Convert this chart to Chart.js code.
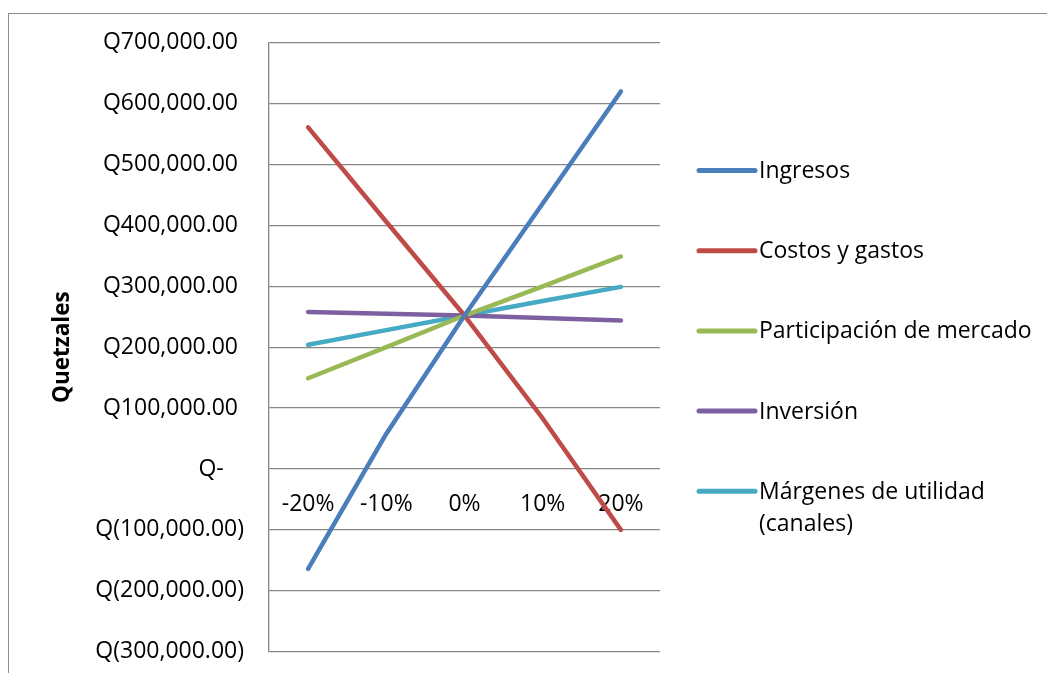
<!DOCTYPE html>
<html>
<head>
<meta charset="utf-8">
<script src="https://cdn.jsdelivr.net/npm/chart.js@4.4.1/dist/chart.umd.min.js"></script>
<style>
  html, body { margin: 0; padding: 0; background: #fff; overflow: hidden; }
  #wrap { position: relative; width: 1047px; height: 673px; overflow: hidden; background: #fff; }
  #frame { position: absolute; left: 8px; top: 12.5px; width: 1100px; height: 700px;
           border: 1.5px solid #8c8c8c; box-sizing: border-box; }
  #c { position: absolute; left: 0; top: 0; }
</style>
</head>
<body>
<div id="wrap">
  <div id="frame"></div>
  <canvas id="c" width="1047" height="673"></canvas>
</div>
<script>
// Sensitivity scenarios (variation applied to each factor)
const categories = ['-20%', '-10%', '0%', '10%', '20%'];

// Resulting value in quetzales for each factor
const ingresos      = [-164000,  58000, 252000, 436000,  620000];
const costosGastos  = [ 561000, 406000, 252000,  83000, -100000];
const participacion = [ 149000, 200000, 252000, 300000,  349000];
const inversion     = [ 258000, 255000, 252000, 248000,  244000];
const margenes      = [ 204000, 228000, 252000, 276000,  299000];

const seriesNames = ['Ingresos', 'Costos y gastos', 'Participación de mercado',
                     'Inversión', 'Márgenes de utilidad (canales)'];
const legendLines = [['Ingresos'], ['Costos y gastos'], ['Participación de mercado'],
                     ['Inversión'], ['Márgenes de utilidad', '(canales)']];

// Value axis ticks in accounting format
const yTickValues = [700000, 600000, 500000, 400000, 300000, 200000, 100000, 0,
                     -100000, -200000, -300000];
const yTickLabels = ['Q700,000.00 ', 'Q600,000.00 ', 'Q500,000.00 ', 'Q400,000.00 ',
                     'Q300,000.00 ', 'Q200,000.00 ', 'Q100,000.00 ', 'Q-   \u200A',
                     'Q(100,000.00)', 'Q(200,000.00)', 'Q(300,000.00)'];

const colors = ['#4A7EBB', '#BE4B48', '#98B954', '#7D60A0', '#46AAC5'];
const values = [ingresos, costosGastos, participacion, inversion, margenes];

const FONT = '"Open Sans", "Noto Sans", sans-serif';
const FONT_SIZE = 23;
const GRID = '#868686';

Chart.defaults.font.family = FONT;
Chart.defaults.font.size = FONT_SIZE;
Chart.defaults.color = '#000';

// Legend drawn to the right of the plot, one entry per series
const sideLegend = {
  id: 'sideLegend',
  afterDraw(chart) {
    const ctx = chart.ctx;
    ctx.save();
    ctx.font = FONT_SIZE + 'px ' + FONT;
    ctx.textBaseline = 'middle';
    ctx.textAlign = 'left';
    ctx.fillStyle = '#000';
    const x0 = 699, x1 = 755, tx = 759, top = 170.5, gap = 80.2, lh = 32.6;
    chart.data.datasets.forEach((ds, i) => {
      const y = top + i * gap;
      ctx.strokeStyle = ds.borderColor;
      ctx.lineWidth = 5;
      ctx.lineCap = 'round';
      ctx.beginPath();
      ctx.moveTo(x0, y);
      ctx.lineTo(x1, y);
      ctx.stroke();
      legendLines[i].forEach((t, j) => ctx.fillText(t, tx, y + 1 + j * lh));
    });
    ctx.restore();
  }
};

new Chart(document.getElementById('c'), {
  type: 'line',
  data: {
    labels: categories,
    datasets: values.map((v, i) => ({
      label: seriesNames[i],
      data: v,
      borderColor: colors[i],
      backgroundColor: colors[i],
      borderWidth: 4.5,
      borderCapStyle: 'round',
      borderJoinStyle: 'round',
      pointRadius: 0,
      pointHoverRadius: 0,
      tension: 0,
      fill: false
    }))
  },
  options: {
    responsive: false,
    animation: false,
    events: [],
    layout: { padding: { left: 0, right: 387, top: 42.7, bottom: 21.3 } },
    plugins: {
      legend: { display: false },
      tooltip: { enabled: false },
      title: { display: false }
    },
    scales: {
      x: {
        type: 'category',
        position: { y: 0 },
        offset: true,
        grid: { display: false, drawTicks: false },
        border: { display: false },
        ticks: { padding: 22, maxRotation: 0, autoSkip: false }
      },
      y: {
        min: -300000,
        max: 700000,
        afterFit(scale) {
          scale.width = 269;
          scale.paddingTop = 0;
          scale.paddingBottom = 0;
        },
        grid: { color: GRID, lineWidth: 1.3, drawTicks: false },
        border: { display: true, color: GRID, width: 1.3 },
        ticks: {
          stepSize: 100000,
          padding: 25,
          callback: (value) => {
            const k = yTickValues.indexOf(value);
            return k >= 0 ? yTickLabels[k] : '';
          }
        },
        title: {
          display: true,
          text: 'Quetzales',
          font: { size: 22.5, weight: 'bold' },
          padding: { top: 49, bottom: 0 }
        }
      }
    }
  },
  plugins: [sideLegend]
});
</script>
</body>
</html>
